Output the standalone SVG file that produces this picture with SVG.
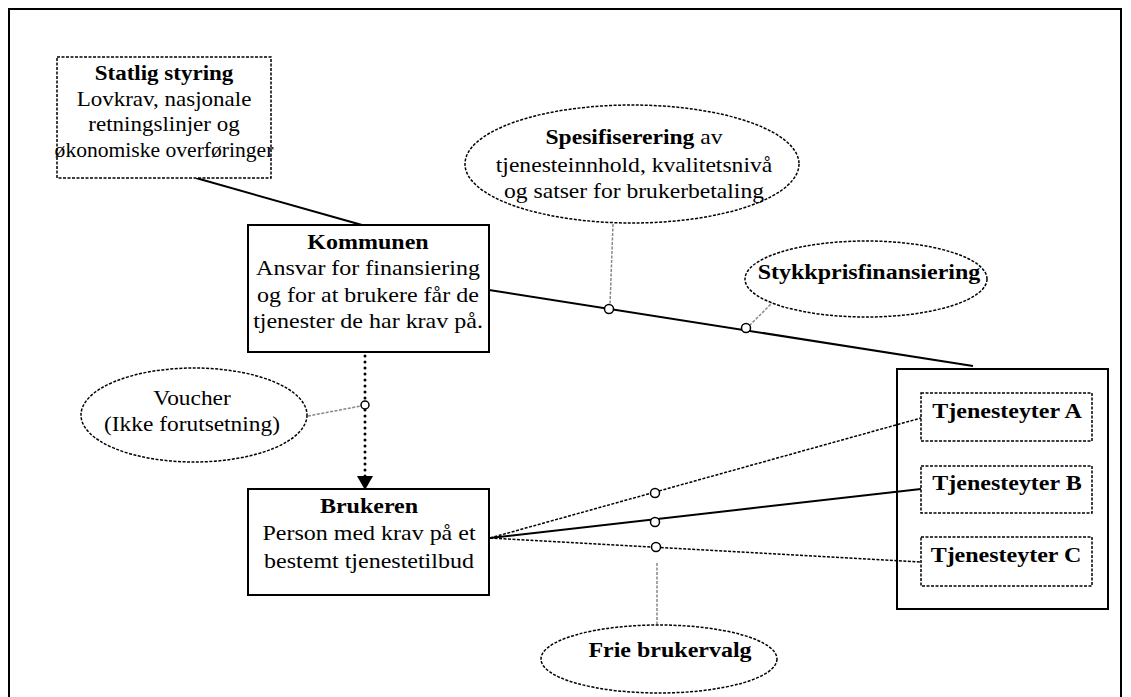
<svg xmlns="http://www.w3.org/2000/svg" width="1131" height="697" viewBox="0 0 1131 697">
<defs>
<style>
.solid{fill:#fff;stroke:#000;stroke-width:2}
.dash{fill:#fff;stroke:#000;stroke-width:1.5;stroke-dasharray:3 1.5}
.ln{fill:none;stroke:#000;stroke-width:2}
.dln{fill:none;stroke:#000;stroke-width:1.5;stroke-dasharray:3 1.5}
.gl{fill:none;stroke:#888;stroke-width:1.5;stroke-dasharray:3 1.5}
.dot{fill:none;stroke:#000;stroke-width:3;stroke-linecap:round;stroke-dasharray:0 6}
.c{fill:#fff;stroke:#000;stroke-width:1.5}
</style>
</defs>
<rect x="0" y="0" width="1131" height="697" fill="#fff"/>
<rect x="9" y="9" width="1112" height="700" fill="none" stroke="#000" stroke-width="2"/>

<g id="connectors">
<line class="ln" x1="196" y1="178" x2="362" y2="225" stroke-width="1.5"/>
<line class="ln" x1="489" y1="290" x2="973" y2="366"/>
<line class="gl" x1="613" y1="224" x2="610" y2="305"/>
<line class="gl" x1="777" y1="298" x2="750" y2="325"/>
<line class="dot" x1="365" y1="356" x2="365" y2="478"/>
<path d="M357,476 L373,476 L365,490 Z" fill="#000"/>
<line class="gl" x1="308" y1="416" x2="361" y2="406"/>
<line class="dln" x1="490" y1="538" x2="921" y2="418"/>
<line class="ln" x1="490" y1="538" x2="921" y2="489"/>
<line class="dln" x1="490" y1="538" x2="921" y2="562"/>
<line class="gl" x1="657" y1="563" x2="657" y2="626"/>
<circle class="c" cx="609" cy="309" r="4.5"/>
<circle class="c" cx="746" cy="328" r="4.5"/>
<circle class="c" cx="365" cy="405" r="4"/>
<circle class="c" cx="655" cy="493" r="4.5"/>
<circle class="c" cx="655" cy="522" r="4.5"/>
<circle class="c" cx="656" cy="547" r="4.5"/>
</g>

<g font-family="'Liberation Serif', 'Times New Roman', serif" font-size="20" text-anchor="middle" fill="#000">
<g id="statlig">
<rect class="dash" x="57" y="57" width="214" height="121"/>
<g transform="translate(164 0) scale(1.15 1)">
<text x="0" y="80" font-weight="bold">Statlig styring</text>
<text x="0" y="106">Lovkrav, nasjonale</text>
<text x="0" y="131">retningslinjer og</text>
</g>
<text x="0" y="157" transform="translate(164 0) scale(1.08 1)">økonomiske overføringer</text>
</g>

<g id="kommunen">
<rect class="solid" x="248" y="225" width="241" height="127"/>
<g transform="translate(368 0) scale(1.2 1)">
<text x="0" y="249" font-weight="bold">Kommunen</text>
<text x="0" y="275">Ansvar for finansiering</text>
<text x="0" y="302">og for at brukere får de</text>
<text x="0" y="328">tjenester de har krav på.</text>
</g>
</g>

<g id="spesifisering">
<ellipse class="dash" cx="632" cy="164" rx="167" ry="59"/>
<g transform="translate(634 0) scale(1.18 1)">
<text x="0" y="144"><tspan font-weight="bold">Spesifiserering</tspan> av</text>
<text x="0" y="172">tjenesteinnhold, kvalitetsnivå</text>
<text x="0" y="198">og satser for brukerbetaling</text>
</g>
</g>

<g id="stykkpris">
<ellipse class="dash" cx="866" cy="279" rx="121" ry="38"/>
<g transform="translate(869 0) scale(1.2 1)">
<text x="0" y="279" font-weight="bold">Stykkprisfinansiering</text>
</g>
</g>

<g id="voucher">
<ellipse class="dash" cx="194" cy="415" rx="113" ry="47"/>
<g transform="translate(192 0) scale(1.17 1)">
<text x="0" y="405">Voucher</text>
<text x="0" y="431">(Ikke forutsetning)</text>
</g>
</g>

<g id="brukeren">
<rect class="solid" x="248" y="489" width="241" height="106"/>
<g transform="translate(369 0) scale(1.2 1)">
<text x="0" y="513" font-weight="bold">Brukeren</text>
<text x="0" y="540">Person med krav på et</text>
<text x="0" y="568">bestemt tjenestetilbud</text>
</g>
</g>

<g id="tjenesteytere">
<rect x="897" y="369" width="211" height="240" fill="none" stroke="#000" stroke-width="2"/>
</g>
<g id="tjenesteyter-a">
<rect class="dash" x="921" y="393" width="171" height="48"/>
<text x="0" y="418" font-weight="bold" transform="translate(1007 0) scale(1.2 1)">Tjenesteyter A</text>
</g>
<g id="tjenesteyter-b">
<rect class="dash" x="921" y="466" width="171" height="47"/>
<text x="0" y="490" font-weight="bold" transform="translate(1007 0) scale(1.2 1)">Tjenesteyter B</text>
</g>
<g id="tjenesteyter-c">
<rect class="dash" x="921" y="537" width="171" height="49"/>
<text x="0" y="562" font-weight="bold" transform="translate(1006 0) scale(1.2 1)">Tjenesteyter C</text>
</g>

<g id="frie">
<ellipse class="dash" cx="659" cy="659" rx="118" ry="34"/>
<text x="0" y="657" font-weight="bold" transform="translate(670 0) scale(1.2 1)">Frie brukervalg</text>
</g>
</g>
</svg>
